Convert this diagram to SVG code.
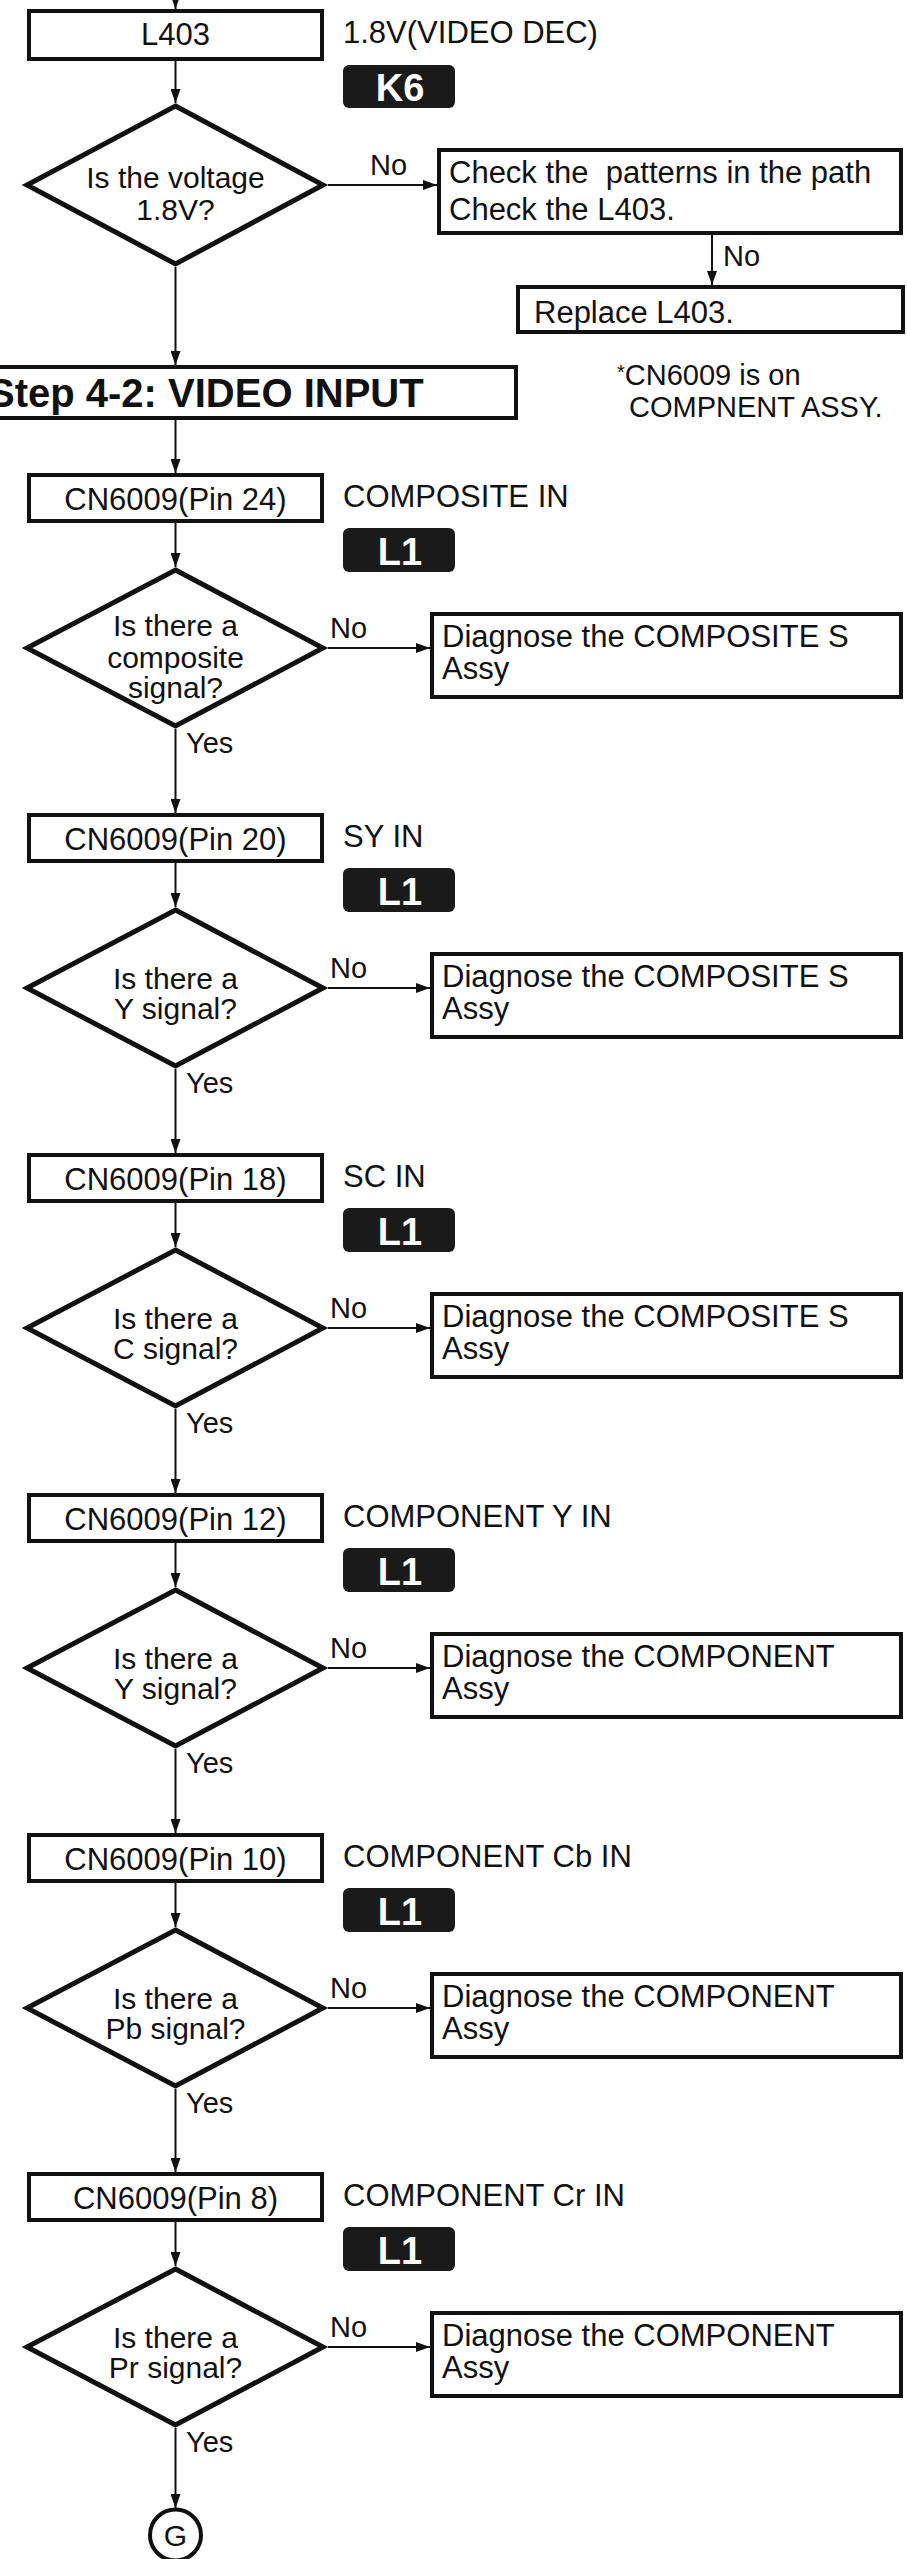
<svg xmlns="http://www.w3.org/2000/svg" width="907" height="2559" viewBox="0 0 907 2559">
<defs>
<style>
.bg{fill:#fff}
.box{fill:#fff;stroke:#111;stroke-width:4}
.dia{fill:#fff;stroke:#111;stroke-width:5;stroke-linejoin:miter}
.badge{fill:#1a1a1a}
.conn{fill:none;stroke:#111;stroke-width:2}
.t{font-family:"Liberation Sans",Arial,sans-serif;font-size:31px;fill:#111}
.c{text-anchor:middle}
.d{font-family:"Liberation Sans",Arial,sans-serif;font-size:30px;fill:#111;text-anchor:middle}
.s{font-family:"Liberation Sans",Arial,sans-serif;font-size:29px;fill:#111}
.b{font-family:"Liberation Sans",Arial,sans-serif;font-size:38px;font-weight:bold;fill:#fff;text-anchor:middle}
.h{font-family:"Liberation Sans",Arial,sans-serif;font-size:40px;font-weight:bold;fill:#111}
</style>
<marker id="arr" viewBox="0 0 14 10" refX="14" refY="5" markerWidth="14" markerHeight="10" markerUnits="userSpaceOnUse" orient="auto">
<path d="M0,0 L14,5 L0,10 z" fill="#111"/>
</marker>
</defs>
<rect class="bg" x="0" y="0" width="907" height="2559"/>

<g id="connectors">
<path class="conn" d="M175.5,0 V9" marker-end="url(#arr)"/>
<path class="conn" d="M175.5,61 V103" marker-end="url(#arr)"/>
<path class="conn" d="M328,185 H437" marker-end="url(#arr)"/>
<path class="conn" d="M712,235 V285" marker-end="url(#arr)"/>
<path class="conn" d="M175.5,267 V365" marker-end="url(#arr)"/>
<path class="conn" d="M175.5,420 V473" marker-end="url(#arr)"/>

<path class="conn" d="M175.5,523 V567" marker-end="url(#arr)"/>
<path class="conn" d="M328,648 H430" marker-end="url(#arr)"/>
<path class="conn" d="M175.5,729 V813" marker-end="url(#arr)"/>

<path class="conn" d="M175.5,863 V907" marker-end="url(#arr)"/>
<path class="conn" d="M328,988 H430" marker-end="url(#arr)"/>
<path class="conn" d="M175.5,1069 V1153" marker-end="url(#arr)"/>

<path class="conn" d="M175.5,1203 V1247" marker-end="url(#arr)"/>
<path class="conn" d="M328,1328 H430" marker-end="url(#arr)"/>
<path class="conn" d="M175.5,1409 V1493" marker-end="url(#arr)"/>

<path class="conn" d="M175.5,1543 V1587" marker-end="url(#arr)"/>
<path class="conn" d="M328,1668 H430" marker-end="url(#arr)"/>
<path class="conn" d="M175.5,1749 V1833" marker-end="url(#arr)"/>

<path class="conn" d="M175.5,1883 V1927" marker-end="url(#arr)"/>
<path class="conn" d="M328,2008 H430" marker-end="url(#arr)"/>
<path class="conn" d="M175.5,2089 V2172" marker-end="url(#arr)"/>

<path class="conn" d="M175.5,2222 V2266" marker-end="url(#arr)"/>
<path class="conn" d="M328,2347 H430" marker-end="url(#arr)"/>
<path class="conn" d="M175.5,2428 V2508" marker-end="url(#arr)"/>
</g>

<g id="n-l403">
<rect class="box" x="29" y="11" width="293" height="48"/>
<text class="t c" x="175.5" y="45">L403</text>
</g>
<g id="n-l403-label">
<text class="t" x="343" y="43">1.8V(VIDEO DEC)</text>
<rect class="badge" x="343" y="65" width="112" height="43" rx="6"/>
<text class="b" x="400" y="101">K6</text>
</g>
<g id="n-q-voltage">
<polygon class="dia" points="175.5,106 323,185 175.5,264 27,185"/>
<text class="d" x="175.5" y="188">Is the voltage</text>
<text class="d" x="175.5" y="220">1.8V?</text>
<text class="s" x="370" y="175">No</text>
</g>
<g id="n-check">
<rect class="box" x="439" y="150" width="462" height="83"/>
<text class="t" x="449" y="183" xml:space="preserve">Check the  patterns in the path</text>
<text class="t" x="449" y="220">Check the L403.</text>
<text class="s" x="723" y="266">No</text>
</g>
<g id="n-replace">
<rect class="box" x="518" y="287" width="385" height="45"/>
<text class="t" x="534" y="323">Replace L403.</text>
</g>
<g id="n-step">
<rect class="box" x="-10" y="367" width="526" height="51"/>
<text class="h" x="-12" y="407">Step 4-2: VIDEO INPUT</text>
</g>
<g id="n-note">
<text class="s" x="617" y="385"><tspan font-size="20" dy="-6">*</tspan><tspan dy="6">CN6009 is on</tspan></text>
<text class="s" x="629" y="417">COMPNENT ASSY.</text>
</g>

<g id="b-pin24" transform="translate(0,473)">
<rect class="box" x="29" y="2" width="293" height="46"/>
<text class="t c" x="175.5" y="37">CN6009(Pin 24)</text>
<text class="t" x="343" y="34">COMPOSITE IN</text>
<rect class="badge" x="343" y="55" width="112" height="44" rx="6"/>
<text class="b" x="400" y="92">L1</text>
<polygon class="dia" points="175.5,97 323,175 175.5,253 27,175"/>
<text class="d" x="175.5" y="163">Is there a</text>
<text class="d" x="175.5" y="195">composite</text>
<text class="d" x="175.5" y="225">signal?</text>
<text class="s" x="330" y="165">No</text>
<text class="s" x="186" y="280">Yes</text>
<rect class="box" x="432" y="141" width="469" height="83"/>
<text class="t" x="442" y="174">Diagnose the COMPOSITE S</text>
<text class="t" x="442" y="206">Assy</text>
</g>

<g id="b-pin20" transform="translate(0,813)">
<rect class="box" x="29" y="2" width="293" height="46"/>
<text class="t c" x="175.5" y="37">CN6009(Pin 20)</text>
<text class="t" x="343" y="34">SY IN</text>
<rect class="badge" x="343" y="55" width="112" height="44" rx="6"/>
<text class="b" x="400" y="92">L1</text>
<polygon class="dia" points="175.5,97 323,175 175.5,253 27,175"/>
<text class="d" x="175.5" y="176">Is there a</text>
<text class="d" x="175.5" y="206">Y signal?</text>
<text class="s" x="330" y="165">No</text>
<text class="s" x="186" y="280">Yes</text>
<rect class="box" x="432" y="141" width="469" height="83"/>
<text class="t" x="442" y="174">Diagnose the COMPOSITE S</text>
<text class="t" x="442" y="206">Assy</text>
</g>

<g id="b-pin18" transform="translate(0,1153)">
<rect class="box" x="29" y="2" width="293" height="46"/>
<text class="t c" x="175.5" y="37">CN6009(Pin 18)</text>
<text class="t" x="343" y="34">SC IN</text>
<rect class="badge" x="343" y="55" width="112" height="44" rx="6"/>
<text class="b" x="400" y="92">L1</text>
<polygon class="dia" points="175.5,97 323,175 175.5,253 27,175"/>
<text class="d" x="175.5" y="176">Is there a</text>
<text class="d" x="175.5" y="206">C signal?</text>
<text class="s" x="330" y="165">No</text>
<text class="s" x="186" y="280">Yes</text>
<rect class="box" x="432" y="141" width="469" height="83"/>
<text class="t" x="442" y="174">Diagnose the COMPOSITE S</text>
<text class="t" x="442" y="206">Assy</text>
</g>

<g id="b-pin12" transform="translate(0,1493)">
<rect class="box" x="29" y="2" width="293" height="46"/>
<text class="t c" x="175.5" y="37">CN6009(Pin 12)</text>
<text class="t" x="343" y="34">COMPONENT Y IN</text>
<rect class="badge" x="343" y="55" width="112" height="44" rx="6"/>
<text class="b" x="400" y="92">L1</text>
<polygon class="dia" points="175.5,97 323,175 175.5,253 27,175"/>
<text class="d" x="175.5" y="176">Is there a</text>
<text class="d" x="175.5" y="206">Y signal?</text>
<text class="s" x="330" y="165">No</text>
<text class="s" x="186" y="280">Yes</text>
<rect class="box" x="432" y="141" width="469" height="83"/>
<text class="t" x="442" y="174">Diagnose the COMPONENT</text>
<text class="t" x="442" y="206">Assy</text>
</g>

<g id="b-pin10" transform="translate(0,1833)">
<rect class="box" x="29" y="2" width="293" height="46"/>
<text class="t c" x="175.5" y="37">CN6009(Pin 10)</text>
<text class="t" x="343" y="34">COMPONENT Cb IN</text>
<rect class="badge" x="343" y="55" width="112" height="44" rx="6"/>
<text class="b" x="400" y="92">L1</text>
<polygon class="dia" points="175.5,97 323,175 175.5,253 27,175"/>
<text class="d" x="175.5" y="176">Is there a</text>
<text class="d" x="175.5" y="206">Pb signal?</text>
<text class="s" x="330" y="165">No</text>
<text class="s" x="186" y="280">Yes</text>
<rect class="box" x="432" y="141" width="469" height="83"/>
<text class="t" x="442" y="174">Diagnose the COMPONENT</text>
<text class="t" x="442" y="206">Assy</text>
</g>

<g id="b-pin8" transform="translate(0,2172)">
<rect class="box" x="29" y="2" width="293" height="46"/>
<text class="t c" x="175.5" y="37">CN6009(Pin 8)</text>
<text class="t" x="343" y="34">COMPONENT Cr IN</text>
<rect class="badge" x="343" y="55" width="112" height="44" rx="6"/>
<text class="b" x="400" y="92">L1</text>
<polygon class="dia" points="175.5,97 323,175 175.5,253 27,175"/>
<text class="d" x="175.5" y="176">Is there a</text>
<text class="d" x="175.5" y="206">Pr signal?</text>
<text class="s" x="330" y="165">No</text>
<text class="s" x="186" y="280">Yes</text>
<rect class="box" x="432" y="141" width="469" height="83"/>
<text class="t" x="442" y="174">Diagnose the COMPONENT</text>
<text class="t" x="442" y="206">Assy</text>
</g>

<g id="n-g">
<circle cx="175.5" cy="2535" r="25.5" fill="#fff" stroke="#111" stroke-width="4"/>
<text class="d" x="175.5" y="2546">G</text>
</g>
</svg>
